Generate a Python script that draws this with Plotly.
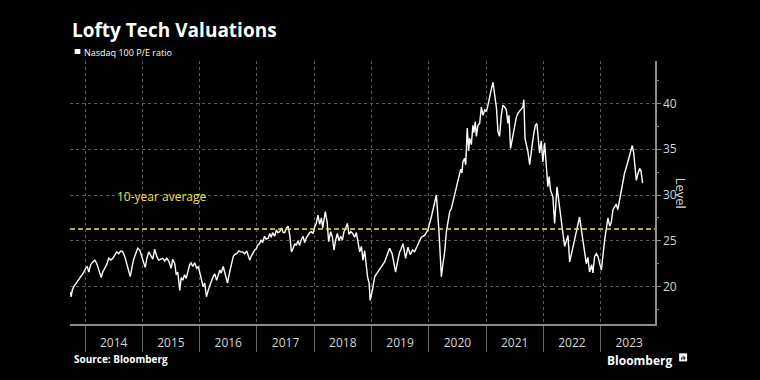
import plotly.graph_objects as go

# ---------------- data ----------------
dates = [
    "2013-09-29", "2013-10-05", "2013-10-11", "2013-10-21", "2013-11-03", "2013-11-15", "2013-11-28", "2013-12-11", "2013-12-24",
    "2014-01-05", "2014-01-15", "2014-01-25", "2014-02-06", "2014-02-19", "2014-03-04", "2014-03-17", "2014-03-29", "2014-04-14",
    "2014-04-24", "2014-05-07", "2014-05-19", "2014-06-01", "2014-06-14", "2014-06-27", "2014-07-09", "2014-07-22", "2014-08-04",
    "2014-08-17", "2014-08-29", "2014-09-11", "2014-09-24", "2014-10-07", "2014-10-16", "2014-10-26", "2014-11-07", "2014-11-20",
    "2014-12-03", "2014-12-16", "2014-12-28",
    "2015-01-10", "2015-01-20", "2015-01-29", "2015-02-11", "2015-02-24", "2015-03-09", "2015-03-21", "2015-04-03", "2015-04-16",
    "2015-04-29", "2015-05-11", "2015-05-24", "2015-06-06", "2015-06-19", "2015-07-04", "2015-07-14", "2015-07-27", "2015-08-05",
    "2015-08-15", "2015-08-28", "2015-09-06", "2015-09-16", "2015-09-28", "2015-10-08", "2015-10-21", "2015-10-30", "2015-11-09",
    "2015-11-18", "2015-12-01", "2015-12-14", "2015-12-24",
    "2016-01-02", "2016-01-12", "2016-01-24", "2016-02-03", "2016-02-14", "2016-02-25", "2016-03-06", "2016-03-19", "2016-03-28",
    "2016-04-07", "2016-04-19", "2016-04-29", "2016-05-09", "2016-05-18", "2016-05-31", "2016-06-09", "2016-06-19", "2016-06-27",
    "2016-07-11", "2016-07-24", "2016-08-03", "2016-08-12", "2016-08-25", "2016-09-07", "2016-09-19", "2016-10-02", "2016-10-15",
    "2016-10-28", "2016-11-06", "2016-11-16", "2016-11-25", "2016-12-05", "2016-12-18", "2016-12-27",
    "2017-01-05", "2017-01-18", "2017-01-27", "2017-02-06", "2017-02-18", "2017-02-28", "2017-03-14", "2017-03-23", "2017-04-02",
    "2017-04-11", "2017-04-24", "2017-05-05", "2017-05-13", "2017-05-26", "2017-06-06", "2017-06-17", "2017-06-27", "2017-07-08",
    "2017-07-19", "2017-07-29", "2017-08-09", "2017-08-20", "2017-08-30", "2017-09-08", "2017-09-20", "2017-09-30", "2017-10-10",
    "2017-10-22", "2017-11-01", "2017-11-11", "2017-11-22", "2017-12-03", "2017-12-13", "2017-12-24",
    "2018-01-04", "2018-01-14", "2018-01-25", "2018-02-05", "2018-02-16", "2018-02-24", "2018-03-13", "2018-03-25", "2018-04-03",
    "2018-04-16", "2018-04-27", "2018-05-07", "2018-05-18", "2018-05-29", "2018-06-08", "2018-06-19", "2018-06-30", "2018-07-10",
    "2018-07-21", "2018-08-01", "2018-08-11", "2018-08-22", "2018-09-03", "2018-09-16", "2018-09-27", "2018-10-07", "2018-10-18",
    "2018-10-29", "2018-11-08", "2018-11-19", "2018-11-30", "2018-12-07", "2018-12-17", "2018-12-24",
    "2019-01-09", "2019-01-22", "2019-02-07", "2019-02-23", "2019-03-10", "2019-03-26", "2019-04-11", "2019-04-27", "2019-05-13",
    "2019-06-04", "2019-06-17", "2019-06-30", "2019-07-11", "2019-07-21", "2019-08-07", "2019-08-22", "2019-09-05", "2019-09-21",
    "2019-10-03", "2019-10-25", "2019-11-15", "2019-12-06", "2019-12-27",
    "2020-01-18", "2020-02-08", "2020-02-19", "2020-03-06", "2020-03-14", "2020-03-22", "2020-04-01", "2020-04-12", "2020-04-23",
    "2020-05-03", "2020-05-14", "2020-05-24", "2020-06-04", "2020-06-15", "2020-06-25", "2020-07-06", "2020-07-16", "2020-07-23",
    "2020-07-31", "2020-08-06", "2020-08-17", "2020-08-24", "2020-09-03", "2020-09-12", "2020-09-18", "2020-09-29", "2020-10-09",
    "2020-10-15", "2020-10-24", "2020-10-31", "2020-11-10", "2020-11-21", "2020-12-02", "2020-12-12", "2020-12-23",
    "2021-01-03", "2021-01-13", "2021-01-24", "2021-02-03", "2021-02-14", "2021-02-25", "2021-03-08", "2021-03-18", "2021-03-28",
    "2021-04-08", "2021-04-18", "2021-04-29", "2021-05-10", "2021-05-20", "2021-05-27", "2021-06-06", "2021-06-21", "2021-07-02",
    "2021-07-13", "2021-07-23", "2021-08-03", "2021-08-14", "2021-08-24", "2021-08-30", "2021-09-06", "2021-09-15", "2021-09-25",
    "2021-10-06", "2021-10-12", "2021-10-20", "2021-10-31", "2021-11-11", "2021-11-21", "2021-11-27", "2021-12-08", "2021-12-19",
    "2021-12-29",
    "2022-01-09", "2022-01-20", "2022-01-30", "2022-02-07", "2022-02-16", "2022-03-03", "2022-03-14", "2022-03-29", "2022-04-15",
    "2022-05-06", "2022-05-17", "2022-06-07", "2022-06-18", "2022-07-09", "2022-07-30", "2022-08-20", "2022-09-10", "2022-10-02",
    "2022-10-12", "2022-10-23", "2022-11-05", "2022-11-13", "2022-11-24", "2022-12-05", "2022-12-15", "2022-12-26",
    "2023-01-06", "2023-01-27", "2023-02-17", "2023-02-28", "2023-03-10", "2023-03-21", "2023-03-31", "2023-04-11", "2023-04-21",
    "2023-05-02", "2023-05-13", "2023-05-23", "2023-06-03", "2023-06-14", "2023-06-24", "2023-07-05", "2023-07-16", "2023-07-22",
    "2023-07-31", "2023-08-06", "2023-08-17", "2023-08-27", "2023-09-07", "2023-09-16", "2023-09-26",
]

pe_ratio = [
    19.4, 18.9, 19.6, 20.0, 20.3, 20.6, 21.0, 21.2, 21.6,
    22.0, 22.2, 21.6, 22.4, 22.7, 22.9, 22.5, 21.8, 21.0,
    21.6, 22.0, 22.4, 23.1, 22.9, 23.1, 23.5, 23.8, 23.6,
    23.9, 23.8, 23.3, 22.5, 21.5, 21.1, 22.0, 23.0, 23.6,
    24.2, 24.0, 23.2,
    22.6, 22.1, 23.0, 23.8, 23.4, 23.0, 24.1, 23.3, 22.9,
    23.0, 23.1, 22.8, 23.1, 22.8, 22.0, 23.0, 22.5, 21.3,
    21.6, 19.6, 21.0, 20.7, 21.3, 20.9, 21.8, 22.4, 22.6,
    22.2, 22.6, 22.0, 22.2,
    21.5, 20.6, 20.0, 20.4, 18.9, 19.6, 20.2, 20.7, 21.1,
    21.4, 20.7, 21.3, 21.8, 21.5, 22.2, 21.6, 20.9, 20.4,
    21.6, 22.6, 23.3, 23.5, 23.6, 23.9, 23.8, 23.8, 23.6,
    23.9, 23.5, 22.9, 23.3, 23.6, 24.0, 24.1,
    24.5, 24.7, 25.1, 24.8, 25.5, 25.2, 25.3, 25.8, 25.4,
    25.9, 25.5, 26.2, 25.9, 26.0, 26.4, 25.9, 25.9, 26.4,
    26.6, 25.6, 23.8, 24.2, 24.7, 24.5, 25.0, 24.5, 25.1,
    25.5, 24.8, 25.3, 25.6, 25.9, 26.0, 25.8,
    26.5, 26.9, 27.8, 26.8, 27.5, 26.4, 28.2, 27.0, 24.9,
    26.0, 25.4, 24.0, 25.1, 25.8, 25.0, 25.5, 25.1, 26.0,
    26.4, 26.9, 25.7, 26.0, 25.8, 25.4, 25.9, 24.8, 23.8,
    24.4, 22.9, 23.9, 21.8, 21.1, 20.4, 18.5,
    19.8, 21.1, 21.5, 22.0, 22.3, 22.7, 23.4, 24.2, 23.6,
    21.6, 22.8, 23.8, 24.2, 24.7, 23.1, 24.3, 23.5, 24.0,
    23.8, 24.7, 25.4, 25.6, 26.2,
    27.6, 29.1, 30.0, 26.2, 23.5, 21.1, 22.5, 23.8, 26.0,
    27.1, 28.2, 28.5, 29.3, 30.2, 30.7, 31.4, 32.2, 32.8,
    32.4, 33.6, 34.0, 33.3, 37.3, 34.8, 36.2, 35.5, 37.6,
    36.8, 38.0, 36.4, 37.6, 37.8, 39.6, 38.7, 39.3,
    39.1, 39.8, 40.9, 41.5, 42.3, 40.9, 39.5, 36.9, 36.4,
    38.7, 39.8, 39.6, 39.3, 37.8, 38.7, 35.1, 36.5, 37.6,
    38.5, 38.9, 39.1, 39.4, 39.6, 40.4, 36.2, 35.6, 34.7,
    33.3, 34.4, 35.2, 36.6, 37.6, 37.8, 36.7, 34.6, 35.9,
    33.6,
    35.7, 32.7, 30.9, 32.0, 30.5, 29.8, 26.9, 30.9, 28.3,
    25.8, 24.4, 25.6, 22.7, 24.4, 25.8, 27.6, 25.1, 22.5,
    23.2, 21.6, 22.4, 21.5, 23.3, 23.6, 23.3, 22.5,
    21.8, 25.1, 27.5, 26.6, 27.0, 28.4, 28.7, 29.0, 28.4,
    29.5, 30.2, 31.2, 32.4, 33.0, 33.6, 34.3, 35.1, 35.4,
    34.6, 33.2, 31.6, 32.3, 32.9, 32.6, 31.3,
]

ten_year_average = 26.3
y_tick_step = 5
title_text = "Lofty Tech Valuations"
series_name = "Nasdaq 100 P/E ratio"
avg_label = "10-year average"
avg_label_at = ("2014-07-08", 29.8)
y_title = "Level"
source_text = "Source: Bloomberg"
brand_text = "Bloomberg"

# ---------------- figure ----------------
GRID = "#5a5a5a"
AXIS = "#8c8c8c"
TXT = "#d6d6d6"
YEL = "#ede04d"
FONT = "Open Sans"

fig = go.Figure()
fig.add_trace(go.Scatter(
    x=dates, y=pe_ratio, mode="lines", name=series_name,
    line=dict(color="#ffffff", width=1.4), hoverinfo="skip", showlegend=False,
))

fig.add_shape(type="line", xref="paper", x0=0, x1=1, yref="y",
              y0=ten_year_average, y1=ten_year_average,
              line=dict(color=YEL, width=1.6, dash="5px,3px"))

# legend square
fig.add_shape(type="rect", xref="paper", yref="paper",
              x0=0.008, x1=0.0177, y0=1.0266, y1=1.0456,
              fillcolor="#ffffff", line=dict(width=0))
# brand icon
fig.add_shape(type="rect", xref="paper", yref="paper",
              x0=1.0413, x1=1.0549, y0=-0.1420, y1=-0.1116,
              fillcolor="#ffffff", line=dict(width=0))
for bx, bh in [(1.0455, 0.008), (1.0481, 0.014), (1.0507, 0.011)]:
    fig.add_shape(type="line", xref="paper", yref="paper",
                  x0=bx, x1=bx, y0=-0.1352, y1=-0.1352 + bh,
                  line=dict(color="#000000", width=1))

annotations = [
    dict(text=f"<b>{title_text}</b>", xref="paper", yref="paper", x=0.0, y=1.119,
         xanchor="left", yanchor="middle", showarrow=False,
         font=dict(family=FONT, size=19, color="#ffffff")),
    dict(text=series_name, xref="paper", yref="paper", x=0.0205, y=1.034,
         xanchor="left", yanchor="middle", showarrow=False,
         font=dict(family=FONT, size=9, color="#ffffff")),
    dict(text=avg_label, xref="x", yref="y", x=avg_label_at[0], y=avg_label_at[1],
         xanchor="left", yanchor="middle", showarrow=False,
         font=dict(family=FONT, size=12, color=YEL)),
    dict(text=y_title, xref="paper", yref="paper", x=1.045, y=0.498,
         xanchor="center", yanchor="middle", showarrow=False, textangle=90,
         font=dict(family=FONT, size=13, color=TXT)),
    dict(text=f"<b>{source_text}</b>", xref="paper", yref="paper", x=0.003, y=-0.133,
         xanchor="left", yanchor="middle", showarrow=False,
         font=dict(family=FONT, size=10, color="#ffffff")),
    dict(text=f"<b>{brand_text}</b>", xref="paper", yref="paper", x=1.0345, y=-0.137,
         xanchor="right", yanchor="middle", showarrow=False,
         font=dict(family=FONT, size=12, color="#ffffff")),
]

fig.update_layout(
    width=760, height=380,
    margin=dict(l=70, r=105, t=61, b=56, pad=0),
    paper_bgcolor="#000000", plot_bgcolor="#000000",
    font=dict(family=FONT, size=12, color=TXT),
    showlegend=False,
    annotations=annotations,
)

fig.update_xaxes(
    type="date", range=["2013-09-27", "2023-12-14"],
    tick0="2014-01-01", dtick="M12", tickformat="%Y", ticklabelmode="period",
    showgrid=True, gridcolor=GRID, griddash="dot", gridwidth=1,
    showline=True, linecolor=AXIS, linewidth=1.5,
    ticks="outside", ticklen=26, tickcolor="#6a6a6a", tickwidth=1,
    ticklabelstandoff=-19, zeroline=False,
    tickfont=dict(family=FONT, size=12, color=TXT),
)

fig.update_yaxes(
    side="right", range=[15.93, 44.62], tick0=0, dtick=y_tick_step,
    showgrid=True, gridcolor=GRID, griddash="dot", gridwidth=1,
    showline=True, linecolor=AXIS, linewidth=1.5,
    ticks="outside", ticklen=4, tickcolor=AXIS, tickwidth=1,
    minor=dict(dtick=y_tick_step / 2, tick0=0, ticks="outside", ticklen=2,
               tickcolor=AXIS, showgrid=False),
    zeroline=False,
    tickfont=dict(family=FONT, size=12, color=TXT),
)

fig.write_html("out.html", config={"displayModeBar": False, "staticPlot": True})

# remove the default page margin so the 760x380 figure fills the window
with open("out.html", "r", encoding="utf-8") as fh:
    page = fh.read()
page = page.replace("<head>", "<head><style>html,body{margin:0;padding:0;background:#000;overflow:hidden;}</style>", 1)
with open("out.html", "w", encoding="utf-8") as fh:
    fh.write(page)
